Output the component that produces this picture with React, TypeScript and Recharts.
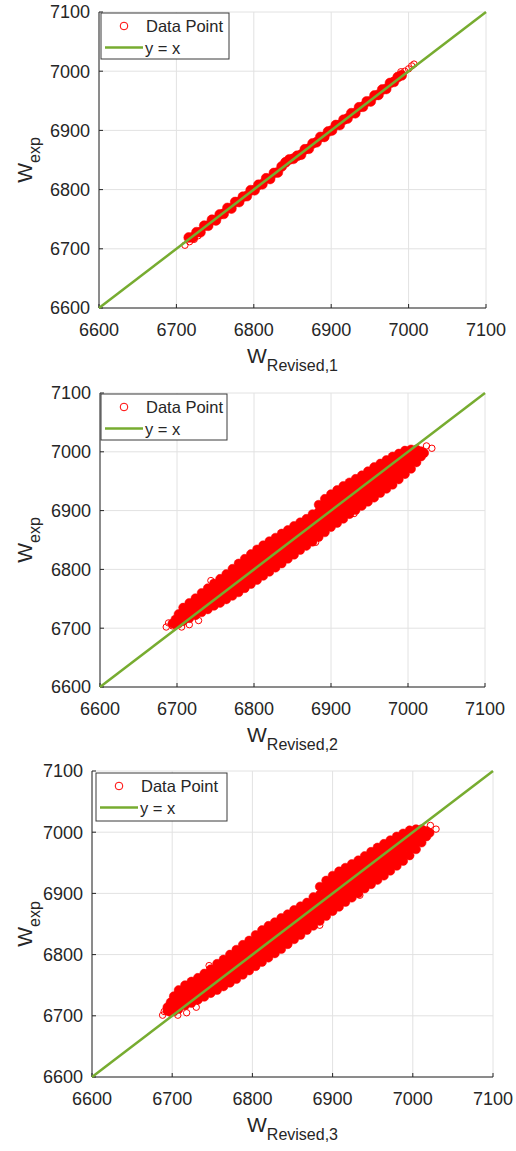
import React from 'react';
import { ScatterChart, Scatter, XAxis, YAxis, CartesianGrid } from 'recharts';

const axisTicks = [6600, 6700, 6800, 6900, 7000, 7100];
const identityLine = [
  { x: 6600, y: 6600 },
  { x: 7100, y: 7100 },
];

// W_Revised,1 : narrow band close to y = x
const revised1Points: [number, number][] = [
  [6716, 6719], [6721, 6719], [6726, 6728], [6731, 6728], [6736, 6739], [6741, 6739],
  [6746, 6749], [6751, 6748], [6756, 6758], [6761, 6759], [6766, 6769], [6771, 6768],
  [6776, 6779], [6781, 6779], [6786, 6788], [6791, 6789], [6796, 6799], [6801, 6799],
  [6806, 6808], [6811, 6809], [6816, 6819], [6821, 6818], [6826, 6828], [6831, 6829],
  [6836, 6839], [6841, 6846], [6846, 6851], [6851, 6852], [6856, 6857], [6861, 6859],
  [6866, 6868], [6871, 6869], [6876, 6878], [6881, 6880], [6886, 6889], [6891, 6889],
  [6896, 6898], [6901, 6900], [6906, 6909], [6911, 6909], [6916, 6918], [6921, 6920],
  [6926, 6929], [6931, 6929], [6936, 6939], [6941, 6940], [6946, 6949], [6951, 6949],
  [6956, 6959], [6961, 6960], [6966, 6969], [6971, 6970], [6976, 6980], [6981, 6982],
  [6986, 6990], [6991, 6993],
];
const revised1Edge: [number, number][] = [
  [6711, 6706], [6717, 6712], [6723, 6716], [6728, 6722], [6990, 6999],
  [6995, 7000], [7000, 7004], [7004, 7009], [7007, 7012],
];

// W_Revised,2 : wide cloud, one row per x with the y values seen there
const revised2Columns: [number, number[]][] = [
  [6694, [6708]],
  [6698, [6707, 6715]],
  [6702, [6708, 6716, 6724]],
  [6708, [6712, 6720, 6728, 6735]],
  [6716, [6717, 6726, 6735, 6743]],
  [6724, [6722, 6732, 6742, 6751]],
  [6732, [6727, 6735, 6744, 6752, 6760]],
  [6740, [6732, 6741, 6750, 6759, 6768]],
  [6748, [6738, 6748, 6757, 6767, 6776]],
  [6756, [6743, 6751, 6759, 6768, 6776, 6784]],
  [6764, [6749, 6758, 6766, 6775, 6783, 6792]],
  [6772, [6755, 6764, 6773, 6783, 6792, 6801]],
  [6780, [6761, 6771, 6781, 6790, 6800, 6810]],
  [6788, [6768, 6778, 6788, 6798, 6808, 6818]],
  [6796, [6775, 6785, 6795, 6806, 6816, 6826]],
  [6804, [6782, 6791, 6799, 6808, 6817, 6825, 6834]],
  [6812, [6789, 6798, 6806, 6815, 6824, 6832, 6841]],
  [6820, [6796, 6805, 6813, 6822, 6831, 6839, 6848]],
  [6828, [6803, 6811, 6820, 6828, 6837, 6845, 6854]],
  [6836, [6810, 6818, 6827, 6835, 6844, 6852, 6861]],
  [6844, [6818, 6828, 6838, 6847, 6857, 6867]],
  [6852, [6825, 6835, 6845, 6854, 6864, 6874]],
  [6860, [6833, 6842, 6852, 6861, 6871, 6880]],
  [6868, [6840, 6849, 6858, 6868, 6877, 6886]],
  [6876, [6847, 6856, 6865, 6874, 6883, 6894]],
  [6884, [6855, 6865, 6875, 6886, 6898, 6910]],
  [6892, [6863, 6873, 6883, 6893, 6903, 6912, 6920]],
  [6900, [6872, 6881, 6891, 6900, 6910, 6919, 6928]],
  [6908, [6879, 6888, 6898, 6907, 6916, 6926, 6935]],
  [6916, [6886, 6895, 6905, 6914, 6923, 6933, 6942]],
  [6924, [6894, 6905, 6916, 6926, 6937, 6948]],
  [6932, [6901, 6912, 6922, 6933, 6943, 6954]],
  [6940, [6908, 6918, 6929, 6939, 6950, 6960]],
  [6948, [6915, 6925, 6936, 6946, 6957, 6967]],
  [6956, [6922, 6932, 6943, 6953, 6964, 6974]],
  [6964, [6930, 6940, 6950, 6960, 6970, 6980]],
  [6972, [6937, 6947, 6957, 6966, 6976, 6986]],
  [6980, [6944, 6954, 6963, 6973, 6982, 6992]],
  [6988, [6953, 6964, 6975, 6986, 6997]],
  [6996, [6962, 6972, 6982, 6992, 7002]],
  [7004, [6971, 6982, 6993, 7004]],
  [7011, [6982, 6994, 7004]],
  [7017, [6992, 7001]],
  [7021, [6998]],
];
const revised2Edge: [number, number][] = [
  [6686, 6702], [6689, 6709], [6694, 6704], [6706, 6702], [6716, 6706],
  [6728, 6713], [6744, 6781], [6880, 6846], [6930, 6895], [7024, 7010], [7031, 7006],
];

// W_Revised,3 : almost the same cloud as W_Revised,2
const revised3Columns: [number, number[]][] = [
  [6694, [6708, 6714]],
  [6698, [6706, 6714, 6722]],
  [6702, [6707, 6716, 6725, 6732]],
  [6708, [6711, 6720, 6729, 6737, 6742]],
  [6716, [6717, 6726, 6735, 6744, 6750]],
  [6724, [6721, 6731, 6741, 6750, 6756]],
  [6732, [6726, 6735, 6745, 6754, 6762]],
  [6740, [6731, 6740, 6750, 6759, 6769]],
  [6748, [6737, 6747, 6757, 6766, 6776]],
  [6756, [6742, 6750, 6759, 6767, 6776, 6785]],
  [6764, [6748, 6757, 6766, 6774, 6783, 6792]],
  [6772, [6754, 6763, 6773, 6782, 6791, 6800]],
  [6780, [6760, 6770, 6780, 6789, 6799, 6808]],
  [6788, [6767, 6777, 6787, 6797, 6806, 6816]],
  [6796, [6774, 6784, 6794, 6804, 6814, 6823]],
  [6804, [6781, 6790, 6799, 6808, 6816, 6824, 6832]],
  [6812, [6788, 6797, 6806, 6814, 6823, 6831, 6840]],
  [6820, [6795, 6804, 6813, 6821, 6830, 6838, 6847]],
  [6828, [6802, 6811, 6819, 6828, 6836, 6845, 6853]],
  [6836, [6809, 6818, 6826, 6835, 6843, 6852, 6860]],
  [6844, [6817, 6827, 6837, 6847, 6856, 6866]],
  [6852, [6825, 6835, 6844, 6854, 6863, 6873]],
  [6860, [6832, 6842, 6851, 6861, 6870, 6879]],
  [6868, [6840, 6849, 6858, 6867, 6876, 6885]],
  [6876, [6847, 6856, 6865, 6874, 6883, 6894]],
  [6884, [6855, 6865, 6875, 6886, 6898, 6911]],
  [6892, [6863, 6873, 6883, 6893, 6903, 6913, 6921]],
  [6900, [6871, 6881, 6890, 6900, 6910, 6920, 6929]],
  [6908, [6878, 6888, 6897, 6907, 6916, 6926, 6936]],
  [6916, [6886, 6895, 6904, 6914, 6923, 6932, 6942]],
  [6924, [6893, 6904, 6915, 6926, 6937, 6948]],
  [6932, [6900, 6911, 6922, 6933, 6944, 6954]],
  [6940, [6908, 6918, 6929, 6940, 6950, 6961]],
  [6948, [6915, 6925, 6936, 6947, 6957, 6968]],
  [6956, [6922, 6933, 6943, 6954, 6964, 6975]],
  [6964, [6929, 6939, 6950, 6960, 6971, 6981]],
  [6972, [6937, 6947, 6957, 6967, 6977, 6987]],
  [6980, [6945, 6955, 6964, 6974, 6983, 6993]],
  [6988, [6953, 6964, 6975, 6986, 6998]],
  [6996, [6962, 6973, 6983, 6993, 7003]],
  [7004, [6972, 6983, 6994, 7005]],
  [7011, [6983, 6995, 7005]],
  [7017, [6993, 7002]],
  [7021, [6999]],
];
const revised3Edge: [number, number][] = [
  [6688, 6701], [6690, 6707], [6695, 6712], [6707, 6701], [6718, 6705],
  [6730, 6714], [6746, 6782], [6884, 6848], [6934, 6897], [7022, 7011], [7029, 7005],
];

const FONT = '"Liberation Sans", Arial, Helvetica, sans-serif';
const INK = '#262626';
const RED = '#ff0000';
const GREEN = '#77AC30';

const toPoints = (pairs: [number, number][]) => pairs.map(([x, y]) => ({ x, y }));
const fromColumns = (cols: [number, number[]][]) =>
  cols.flatMap(([x, ys]) => ys.map((y) => ({ x, y })));

const XTitle = ({ viewBox, sub }: any) => {
  const cx = viewBox.x + viewBox.width / 2;
  return (
    <text x={cx} y={viewBox.y + 55} textAnchor="middle" fontFamily={FONT} fill={INK} fontSize={21}>
      W<tspan dy={8} fontSize={16}>{sub}</tspan>
    </text>
  );
};

const YTitle = ({ viewBox, bx }: any) => {
  const cy = viewBox.y + viewBox.height / 2;
  return (
    <text
      x={bx}
      y={cy}
      textAnchor="middle"
      fontFamily={FONT}
      fill={INK}
      fontSize={21}
      transform={`rotate(-90, ${bx}, ${cy})`}
    >
      W<tspan dy={8} fontSize={16}>exp</tspan>
    </text>
  );
};

const LegendBox = ({ left, top, w, h }: any) => (
  <svg
    width={w + 2}
    height={h + 2}
    style={{ position: 'absolute', left: left - 1, top: top - 1 }}
  >
    <rect x={1} y={1} width={w} height={h} fill="#fff" stroke="#3a3a3a" strokeWidth={1} />
    <circle cx={24} cy={14} r={3.8} fill="none" stroke={RED} strokeWidth={1} />
    <text x={46} y={20} fontFamily={FONT} fontSize={16.5} fill={INK}>
      Data Point
    </text>
    <line x1={5} x2={43} y1={35.5} y2={35.5} stroke={GREEN} strokeWidth={2.5} />
    <text x={45} y={42} fontFamily={FONT} fontSize={16.5} fill={INK}>
      y = x
    </text>
  </svg>
);

interface PanelProps {
  top: number;
  height: number;
  margin: { top: number; right: number; bottom: number; left: number };
  sub: string;
  cloud: { x: number; y: number }[];
  edge: { x: number; y: number }[];
  dotR: number;
  legend: { left: number; top: number; w: number; h: number };
}

const Panel = ({ top, height, margin, sub, cloud, edge, dotR, legend }: PanelProps) => (
  <>
    <div style={{ position: 'absolute', left: 0, top }}>
      <ScatterChart width={516} height={height} margin={margin}>
        <CartesianGrid stroke="#e2e2e2" strokeWidth={1} />
        <XAxis
          type="number"
          dataKey="x"
          domain={[6600, 7100]}
          ticks={axisTicks}
          interval={0}
          height={60}
          tickSize={-4}
          tickMargin={19}
          axisLine={{ stroke: INK }}
          tickLine={{ stroke: INK }}
          tick={{ fill: INK, fontSize: 18, fontFamily: FONT }}
          label={(p: any) => <XTitle viewBox={p.viewBox} sub={sub} />}
        />
        <YAxis
          type="number"
          dataKey="y"
          domain={[6600, 7100]}
          ticks={axisTicks}
          interval={0}
          width={80}
          tickSize={-4}
          tickMargin={13}
          axisLine={{ stroke: INK }}
          tickLine={{ stroke: INK }}
          tick={{ fill: INK, fontSize: 18, fontFamily: FONT }}
          label={(p: any) => <YTitle viewBox={p.viewBox} bx={32} />}
        />
        <Scatter
          data={cloud}
          isAnimationActive={false}
          shape={(p: any) => <circle cx={p.cx} cy={p.cy} r={dotR} fill={RED} stroke={RED} strokeWidth={0.5} />}
        />
        <Scatter
          data={edge}
          isAnimationActive={false}
          shape={(p: any) => <circle cx={p.cx} cy={p.cy} r={3.2} fill="none" stroke={RED} strokeWidth={1} />}
        />
        <Scatter
          data={identityLine}
          isAnimationActive={false}
          line={{ stroke: GREEN, strokeWidth: 2.5 }}
          shape={() => <g />}
        />
      </ScatterChart>
    </div>
    <LegendBox {...legend} />
  </>
);

export default function App() {
  return (
    <div
      style={{
        position: 'absolute',
        left: 0,
        top: 0,
        width: 516,
        height: 1151,
        background: '#fff',
        overflow: 'hidden',
      }}
    >
      <Panel
        top={0}
        height={380}
        margin={{ top: 12, right: 30, bottom: 12, left: 19 }}
        sub="Revised,1"
        cloud={toPoints(revised1Points)}
        edge={toPoints(revised1Edge)}
        dotR={5}
        legend={{ left: 101, top: 13, w: 128, h: 46 }}
      />
      <Panel
        top={380}
        height={380}
        margin={{ top: 13, right: 31, bottom: 13, left: 20 }}
        sub="Revised,2"
        cloud={fromColumns(revised2Columns)}
        edge={toPoints(revised2Edge)}
        dotR={4.5}
        legend={{ left: 101, top: 394, w: 126, h: 46 }}
      />
      <Panel
        top={760}
        height={391}
        margin={{ top: 11, right: 23, bottom: 14, left: 12 }}
        sub="Revised,3"
        cloud={fromColumns(revised3Columns)}
        edge={toPoints(revised3Edge)}
        dotR={4.5}
        legend={{ left: 96, top: 773, w: 131, h: 48 }}
      />
    </div>
  );
}
